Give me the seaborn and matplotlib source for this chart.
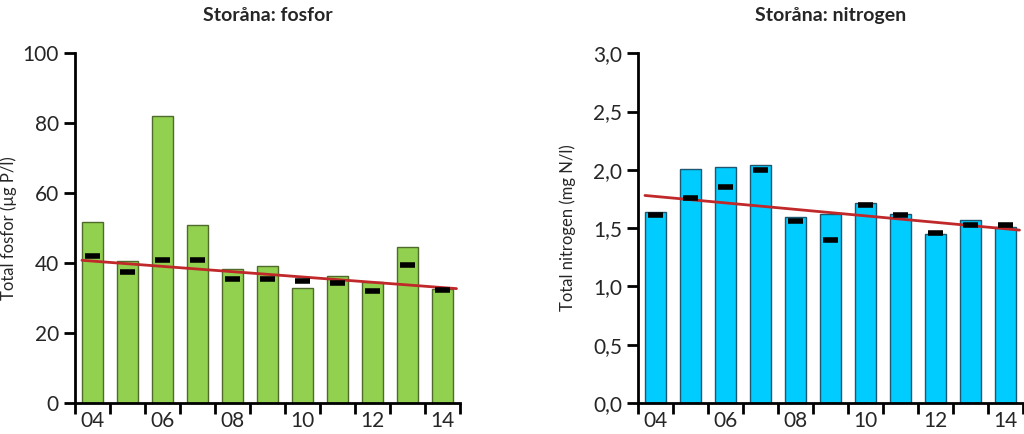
import numpy as np
import pandas as pd
import seaborn as sns
import matplotlib.pyplot as plt
from matplotlib.ticker import FixedLocator

# Data
years = ['04', '05', '06', '07', '08', '09', '10', '11', '12', '13', '14']
fosfor_bar = [51.8, 40.6, 82.0, 51.0, 38.4, 39.3, 32.9, 36.4, 34.6, 44.7, 32.7]
fosfor_mark = [42.0, 37.4, 40.9, 40.9, 35.4, 35.4, 34.9, 34.4, 32.0, 39.4, 32.4]
fosfor_trend = [40.8, 32.7]
nitrogen_bar = [1.64, 2.01, 2.02, 2.04, 1.595, 1.62, 1.715, 1.62, 1.45, 1.57, 1.51]
nitrogen_mark = [1.61, 1.755, 1.85, 2.00, 1.56, 1.40, 1.70, 1.615, 1.46, 1.53, 1.525]
nitrogen_trend = [1.78, 1.483]

sns.set_theme(style='ticks')
plt.rcParams['font.family'] = ['Lato', 'DejaVu Sans']

fig = plt.figure(figsize=(10.24, 4.34), dpi=100)
ax1 = fig.add_axes([0.0732, 0.0714, 0.376, 0.806])
ax2 = fig.add_axes([0.623, 0.0714, 0.376, 0.806])


def draw(ax, bars, marks, trend, color, edge, title, ylabel, ymax, ystep, fmt):
    df = pd.DataFrame({'year': years, 'value': bars})
    sns.barplot(data=df, x='year', y='value', color=color, width=0.6,
                edgecolor=edge, linewidth=1, saturation=1, ax=ax, zorder=2)
    # trend line across the series
    ax.plot([-0.3, len(years) - 0.6], trend, color='#c0282a', lw=2, zorder=3)
    x = np.arange(len(years))
    ax.hlines(marks, x - 0.22, x + 0.22, color='black', lw=4, zorder=4)

    ax.set_xlim(-0.5, len(years) - 0.5)
    ax.set_ylim(0, ymax)
    ax.set_yticks(np.arange(0, ymax + ystep / 2, ystep))
    ax.set_yticklabels([fmt(v) for v in np.arange(0, ymax + ystep / 2, ystep)])
    ax.set_xticks(x[::2])
    ax.set_xticklabels(years[::2])
    ax.xaxis.set_minor_locator(FixedLocator(np.arange(-0.5, len(years), 1)))
    ax.tick_params(axis='x', which='major', length=0, labelsize=15, pad=6)
    ax.tick_params(axis='x', which='minor', length=8, width=2, color='black')
    ax.tick_params(axis='y', length=8, width=2, labelsize=15, color='black')
    ax.set_xlabel('')
    ax.set_ylabel(ylabel, fontsize=12)
    ax.set_title(title, fontsize=14, fontweight='bold', pad=23)
    sns.despine(ax=ax)
    for s in ['left', 'bottom']:
        ax.spines[s].set_linewidth(2)
        ax.spines[s].set_color('black')


draw(ax1, fosfor_bar, fosfor_mark, fosfor_trend, '#92d050', '#4f6a2a',
     'Storåna: fosfor', 'Total fosfor (µg P/l)', 100, 20, lambda v: f'{v:.0f}')
draw(ax2, nitrogen_bar, nitrogen_mark, nitrogen_trend, '#00ccff', '#1f5670',
     'Storåna: nitrogen', 'Total nitrogen (mg N/l)', 3.0, 0.5,
     lambda v: f'{v:.1f}'.replace('.', ','))
ax2.yaxis.labelpad = 12

fig.savefig('out.png', dpi=100)
